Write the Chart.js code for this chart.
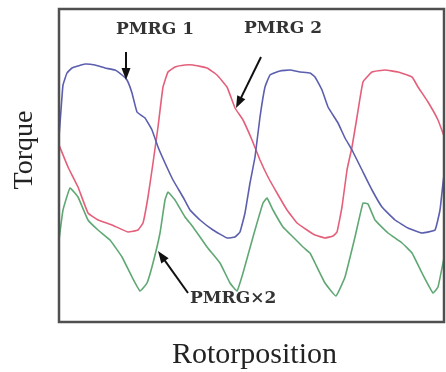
<!DOCTYPE html>
<html lang="en">

<head>
    <meta charset="UTF-8">
    <title>Torque vs rotor position</title>
    <script src="https://cdn.jsdelivr.net/npm/chart.js@4.4.1/dist/chart.umd.min.js"></script>
    <style>
        html,
        body {
            margin: 0;
            background: #fff;
        }

        #wrap {
            width: 446px;
            height: 372px;
        }
    </style>
</head>

<body>
    <div id="wrap">
        <canvas id="torque" width="446" height="372"></canvas>
    </div>

    <script>
        // rotor position samples and torque (arbitrary units) for each machine
        const pmrg1X = [0, 2, 4, 8, 13, 19, 26, 36, 46, 56, 63, 68, 73, 78, 86, 93, 99, 106, 114, 124, 131, 141, 154, 168, 176, 181, 186, 191, 196, 201, 206, 211, 221, 231, 241, 251, 256, 263, 269, 279, 286, 293, 303, 313, 323, 336, 349, 363, 376, 381, 384, 385];
        const pmrg1Y = [185, 212, 237, 249, 254, 256, 258, 257, 254, 252, 247, 242, 229, 210, 204, 192, 175, 159, 142, 125, 112, 102, 92, 84, 85, 90, 109, 139, 165, 205, 235, 247, 251, 252, 250, 249, 245, 232, 215, 199, 184, 172, 152, 132, 115, 102, 94, 89, 92, 112, 139, 147];

        const pmrg2X = [0, 9, 19, 29, 39, 53, 69, 79, 84, 89, 94, 99, 104, 109, 116, 126, 134, 148, 158, 168, 176, 184, 193, 201, 209, 218, 228, 238, 248, 256, 266, 274, 278, 283, 288, 293, 298, 304, 313, 326, 339, 353, 359, 369, 379, 385];
        const pmrg2Y = [177, 155, 135, 109, 102, 97, 90, 92, 99, 125, 159, 195, 235, 250, 255, 257, 257, 254, 247, 235, 214, 202, 182, 162, 145, 129, 112, 99, 92, 87, 84, 86, 90, 115, 152, 175, 205, 240, 250, 252, 250, 245, 235, 220, 202, 186];

        const pmrgX2X = [0, 4, 11, 19, 29, 39, 51, 63, 73, 81, 88, 94, 101, 106, 109, 116, 126, 134, 148, 161, 171, 178, 184, 194, 204, 208, 214, 224, 234, 244, 251, 256, 266, 277, 286, 296, 304, 309, 316, 329, 343, 353, 363, 374, 379, 384, 385];
        const pmrgX2Y = [82, 112, 134, 125, 102, 92, 82, 65, 45, 31, 39, 59, 89, 122, 130, 122, 105, 95, 75, 59, 39, 31, 49, 85, 119, 124, 112, 95, 85, 75, 69, 59, 39, 26, 45, 85, 119, 118, 102, 89, 79, 69, 49, 29, 35, 59, 64];

        // callouts: text position, arrow tail and arrow tip, all in data units
        const callouts = [
            { text: 'PMRG 1', tx: 96, ty: 292, align: 'center', from: [67, 270], to: [67, 242] },
            { text: 'PMRG 2', tx: 224, ty: 293, align: 'center', from: [202, 265], to: [177, 214] },
            { text: 'PMRG\u00d72', tx: 131, ty: 23, align: 'left', from: [129, 29], to: [99, 71] }
        ];

        const pts = (xs, ys) => xs.map((x, i) => ({ x: x, y: ys[i] }));

        const line = (label, xs, ys, color) => ({
            label: label,
            data: pts(xs, ys),
            borderColor: color,
            borderWidth: 1.6,
            pointRadius: 0,
            tension: 0.1,
            fill: false
        });

        const framePlugin = {
            id: 'frame',
            afterDatasetsDraw(chart) {
                const { ctx, chartArea: a, scales } = chart;
                ctx.save();

                // plot frame
                ctx.strokeStyle = '#505050';
                ctx.lineWidth = 2.5;
                ctx.strokeRect(a.left, a.top, a.right - a.left, a.bottom - a.top);

                // callout arrows and labels
                callouts.forEach(c => {
                    const x0 = scales.x.getPixelForValue(c.from[0]);
                    const y0 = scales.y.getPixelForValue(c.from[1]);
                    const x1 = scales.x.getPixelForValue(c.to[0]);
                    const y1 = scales.y.getPixelForValue(c.to[1]);
                    const ang = Math.atan2(y1 - y0, x1 - x0);
                    ctx.strokeStyle = '#111';
                    ctx.fillStyle = '#111';
                    ctx.lineWidth = 2;
                    ctx.beginPath();
                    ctx.moveTo(x0, y0);
                    ctx.lineTo(x1 - 6 * Math.cos(ang), y1 - 6 * Math.sin(ang));
                    ctx.stroke();
                    ctx.beginPath();
                    ctx.moveTo(x1, y1);
                    ctx.lineTo(x1 - 12 * Math.cos(ang) + 4.5 * Math.sin(ang), y1 - 12 * Math.sin(ang) - 4.5 * Math.cos(ang));
                    ctx.lineTo(x1 - 12 * Math.cos(ang) - 4.5 * Math.sin(ang), y1 - 12 * Math.sin(ang) + 4.5 * Math.cos(ang));
                    ctx.closePath();
                    ctx.fill();

                    ctx.fillStyle = '#333';
                    ctx.font = 'bold 17px "DejaVu Serif", serif';
                    ctx.textAlign = c.align;
                    ctx.textBaseline = 'middle';
                    ctx.fillText(c.text, scales.x.getPixelForValue(c.tx), scales.y.getPixelForValue(c.ty));
                });

                // axis titles
                ctx.fillStyle = '#222';
                ctx.font = '30px "Liberation Serif", serif';
                ctx.textAlign = 'center';
                ctx.textBaseline = 'alphabetic';
                ctx.fillText('Rotorposition', (a.left + a.right) / 2 + 3, 363);

                ctx.translate(32, 150);
                ctx.rotate(-Math.PI / 2);
                ctx.font = '28px "Liberation Serif", serif';
                ctx.fillText('Torque', 0, 0);
                ctx.restore();
            }
        };

        window.onload = function () {
            const ctx = document.getElementById('torque').getContext('2d');
            new Chart(ctx, {
                type: 'line',
                data: {
                    datasets: [
                        line('PMRG 1', pmrg1X, pmrg1Y, '#5b5fae'),
                        line('PMRG 2', pmrg2X, pmrg2Y, '#e4607a'),
                        line('PMRG\u00d72', pmrgX2X, pmrgX2Y, '#5fa874')
                    ]
                },
                options: {
                    responsive: false,
                    animation: false,
                    layout: { padding: { left: 59, top: 9, right: 2, bottom: 50 } },
                    plugins: {
                        legend: { display: false },
                        tooltip: { enabled: false }
                    },
                    scales: {
                        x: { type: 'linear', min: 0, max: 385, display: false },
                        y: { min: 0, max: 313, display: false }
                    }
                },
                plugins: [framePlugin]
            });
        }
    </script>
</body>

</html>
